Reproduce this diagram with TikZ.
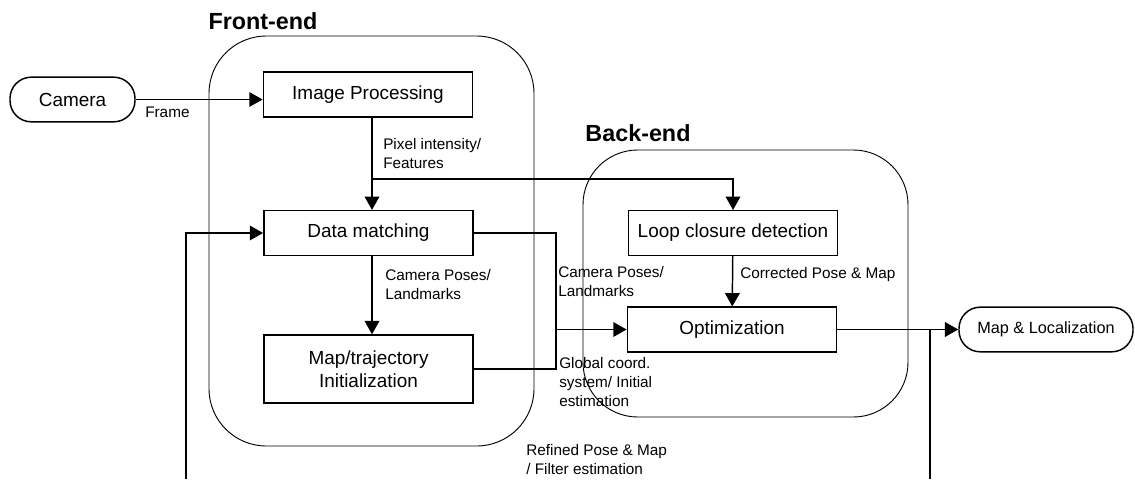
\documentclass[tikz,border=0pt]{standalone}
\usepackage{fontspec}
\setmainfont{Liberation Sans}
\usetikzlibrary{arrows.meta,positioning}

\begin{document}
\begin{tikzpicture}[
    x=0.75pt, y=-0.75pt,
    block/.style={draw,line width=1.1pt,minimum width=157pt,minimum height=33.5pt,inner sep=0pt,
                  align=center,font=\fontsize{14.2}{17.5}\selectfont},
    terminal/.style={draw,line width=1.1pt,rounded corners=16pt,minimum height=33.5pt,inner sep=0pt,
                  font=\fontsize{14.2}{17.5}\selectfont},
    stage/.style={draw,line width=0.7pt},
    title/.style={font=\fontsize{17.5}{21}\selectfont\bfseries},
    note/.style={anchor=base west,inner sep=0pt,align=left,font=\fontsize{11.5}{13.9}\selectfont},
    wire/.style={line width=1.1pt},
    flow/.style={line width=1.1pt,-{Triangle[length=10pt,width=11pt]}}
  ]
  \useasboundingbox (0,0) rectangle (1135,479);

  % Stages
  \draw[stage,rounded corners=43pt] (209,36) rectangle (534,446);
  \node[title] (fronttitle) at (263,21) {Front-end};
  \draw[stage,rounded corners=41pt] (583,150) rectangle (908,417);
  \node[title] (backtitle) at (638,133) {Back-end};

  % Blocks
  \node[terminal,minimum width=93.75pt] (camera) at (72.5,99.5) {Camera};
  \node[block] (imgproc) at (368,94.5) {Image Processing};
  \node[block] (datamatch) at (368.5,233) {Data matching};
  \node[block,minimum height=51pt] (mapinit) at (368.5,369) {Map/trajectory\\Initialization};
  \node[block] (loopclose) at (733,233) {Loop closure detection};
  \node[block] (optim) at (732,329.5) {Optimization};
  \node[terminal,minimum width=130.5pt,font=\fontsize{12.2}{15}\selectfont] (maploc) at (1046,329.5) {Map \& Localization};

  % Junctions
  \coordinate (split) at (372,179);
  \coordinate (merge) at (556,329.5);
  \coordinate (tap) at (930,329.5);
  \coordinate (fbleft) at (186,479);
  \coordinate (fbright) at (930,479);

  % Front-end flow
  \draw[flow] (camera.east) -- (camera.east -| imgproc.west);
  \draw[wire] (imgproc.south -| split) -- (split);
  \draw[flow] (split) -- (split |- datamatch.north);
  \draw[flow] (split) -| (loopclose.north);
  \draw[flow] (datamatch.south -| split) -- (mapinit.north -| split);

  % Into back-end
  \draw[wire] (datamatch.east) -| (merge);
  \draw[wire] (mapinit.east) -| (merge);
  \draw[flow] (merge) -- (optim.west);
  \draw[flow] (loopclose) -- (optim);
  \draw[flow] (optim.east) -- (maploc.west);

  % Feedback
  \draw[flow] (fbleft) |- (datamatch.west);
  \draw[wire] (tap) -- (fbright);

  % Labels (anchored at the baseline of the last line)
  \node[note] (lframe) at (145,117) {Frame};
  \node[note] (lpixel) at (383,168) {Pixel intensity/\\Features};
  \node[note] (lposes) at (385,299) {Camera Poses/\\Landmarks};
  \node[note] (lposesb) at (558,296) {Camera Poses/\\Landmarks};
  \node[note] (lcorr) at (740,278) {Corrected Pose \& Map};
  \node[note] (lglobal) at (559,406) {Global coord.\\system/ Initial\\estimation};
  \node[note] (lrefined) at (526,474) {Refined Pose \& Map\\/ Filter estimation};
\end{tikzpicture}
\end{document}
